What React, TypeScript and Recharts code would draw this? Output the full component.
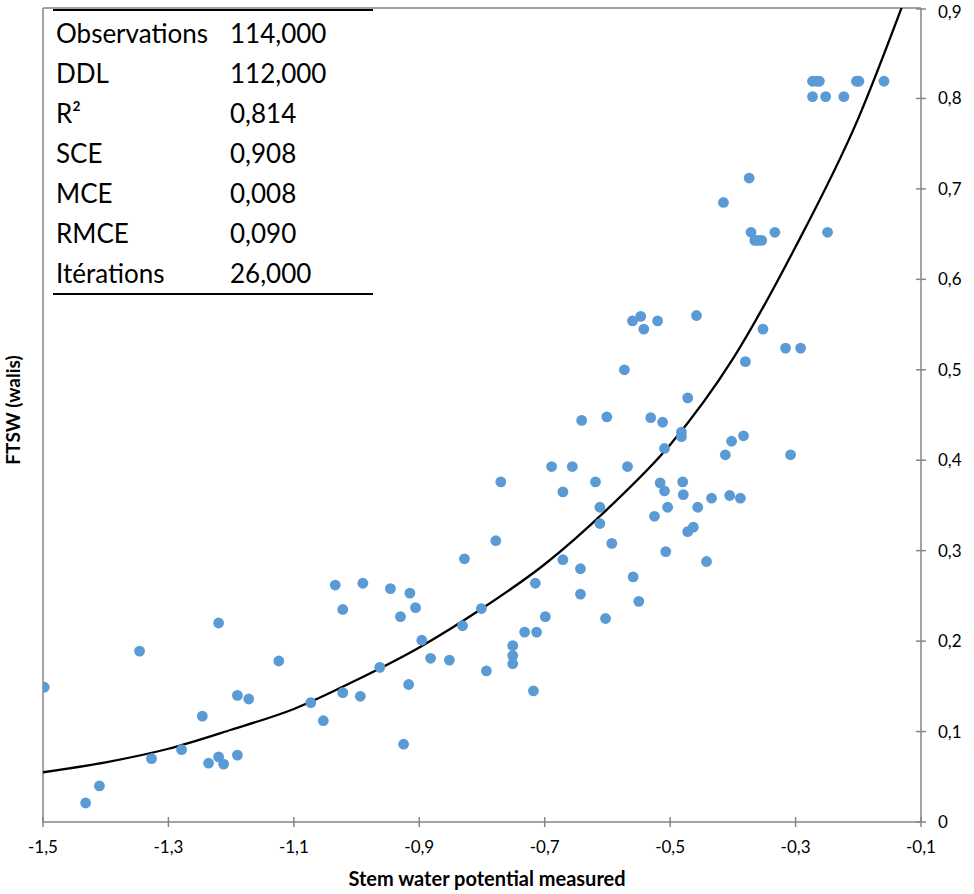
import React from 'react';
import { ComposedChart, Scatter, Line, XAxis, YAxis, ReferenceLine } from 'recharts';

// measured stem water potential (x) vs FTSW (y)
const obsX = [
  -1.498, -1.432, -1.41, -1.346, -1.327, -1.279, -1.246, -1.236, -1.22, -1.22,
  -1.212, -1.19, -1.19, -1.172, -1.124, -1.073, -1.053, -1.034, -1.022, -1.022,
  -0.994, -0.99, -0.963, -0.946, -0.93, -0.925, -0.917, -0.915, -0.906, -0.896,
  -0.882, -0.852, -0.831, -0.828, -0.801, -0.793, -0.778, -0.77, -0.751, -0.751,
  -0.751, -0.732, -0.718, -0.713, -0.715, -0.699, -0.689, -0.671, -0.671, -0.656,
  -0.643, -0.643, -0.641, -0.619, -0.612, -0.612, -0.603, -0.601, -0.593, -0.573,
  -0.568, -0.56, -0.559, -0.547, -0.542, -0.531, -0.525, -0.52, -0.516, -0.512,
  -0.509, -0.509, -0.504, -0.507, -0.482, -0.482, -0.48, -0.479, -0.472, -0.472,
  -0.463, -0.458, -0.456, -0.442, -0.434, -0.415, -0.412, -0.405, -0.402, -0.388,
  -0.383, -0.38, -0.374, -0.371, -0.365, -0.36, -0.354, -0.352, -0.333, -0.316,
  -0.308, -0.292, -0.273, -0.273, -0.266, -0.262, -0.252, -0.249, -0.223, -0.203,
  -0.199, -0.159, -0.55,
];
const obsY = [
  0.149, 0.021, 0.04, 0.189, 0.07, 0.08, 0.117, 0.065, 0.22, 0.072,
  0.064, 0.074, 0.14, 0.136, 0.178, 0.132, 0.112, 0.262, 0.143, 0.235,
  0.139, 0.264, 0.171, 0.258, 0.227, 0.086, 0.152, 0.253, 0.237, 0.201,
  0.181, 0.179, 0.217, 0.291, 0.236, 0.167, 0.311, 0.376, 0.195, 0.184,
  0.175, 0.21, 0.145, 0.21, 0.264, 0.227, 0.393, 0.365, 0.29, 0.393,
  0.28, 0.252, 0.444, 0.376, 0.348, 0.33, 0.225, 0.448, 0.308, 0.5,
  0.393, 0.554, 0.271, 0.559, 0.545, 0.447, 0.338, 0.554, 0.375, 0.442,
  0.413, 0.366, 0.348, 0.299, 0.431, 0.426, 0.376, 0.362, 0.469, 0.321,
  0.326, 0.56, 0.348, 0.288, 0.358, 0.685, 0.406, 0.361, 0.421, 0.358,
  0.427, 0.509, 0.712, 0.652, 0.643, 0.643, 0.643, 0.545, 0.652, 0.524,
  0.406, 0.524, 0.802, 0.819, 0.819, 0.819, 0.802, 0.652, 0.802, 0.819,
  0.819, 0.819, 0.244,
];

// fitted model curve
const fitX = [-1.5, -1.4, -1.3, -1.2, -1.1, -1.0, -0.9, -0.8, -0.7, -0.6, -0.5, -0.4, -0.3, -0.2, -0.13];
const fitY = [0.055, 0.066, 0.081, 0.102, 0.125, 0.157, 0.193, 0.236, 0.285, 0.346, 0.417, 0.512, 0.636, 0.778, 0.902];

const xTicks = [-1.5, -1.3, -1.1, -0.9, -0.7, -0.5, -0.3, -0.1];
const yTicks = [0, 0.1, 0.2, 0.3, 0.4, 0.5, 0.6, 0.7, 0.8, 0.9];

const statLabels = ['Observations', 'DDL', 'R²', 'SCE', 'MCE', 'RMCE', 'Itérations'];
const statValues = ['114,000', '112,000', '0,814', '0,908', '0,008', '0,090', '26,000'];

const points = obsX.map((x, i) => ({ x, y: obsY[i] }));
const curve = fitX.map((x, i) => ({ x, y: fitY[i] }));

const AXIS = '#868686';
const FONT = 'Lato, "Open Sans", sans-serif';

const fmt = (v: number) => (v === 0 ? '0' : v.toFixed(1).replace('.', ','));

const XTick = (props: any) => {
  const { x, y, payload } = props;
  const ay = y - 4;
  return (
    <g>
      <line x1={x} x2={x} y1={ay - 5} y2={ay + 5} stroke={AXIS} strokeWidth={1.5} />
      <text x={x} y={ay + 31} textAnchor="middle" fill="#000" fontSize={17} fontFamily={FONT}>
        {fmt(payload.value)}
      </text>
    </g>
  );
};

const YTick = (props: any) => {
  const { x, y, payload, index } = props;
  const ax = x - 4;
  // keep the top label inside the page
  const dy = index === yTicks.length - 1 ? 9 : 6;
  return (
    <g>
      <line x1={ax - 5} x2={ax + 5} y1={y} y2={y} stroke={AXIS} strokeWidth={1.5} />
      <text x={ax + 17} y={y + dy} textAnchor="start" fill="#000" fontSize={17} fontFamily={FONT}>
        {fmt(payload.value)}
      </text>
    </g>
  );
};

const Dot = (props: any) => <circle cx={props.cx} cy={props.cy} r={5.4} fill="#5B9BD5" />;

export default function App() {
  return (
    <div style={{ position: 'absolute', left: 0, top: 0, width: 974, height: 894, background: '#fff', fontFamily: FONT }}>
      <ComposedChart width={974} height={894} margin={{ top: 8, right: 0, bottom: 0, left: 43 }}>
        <XAxis
          type="number"
          dataKey="x"
          domain={[-1.5, -0.1]}
          ticks={xTicks}
          allowDataOverflow
          height={72}
          stroke={AXIS}
          strokeWidth={1.5}
          tickLine={false}
          tickSize={0}
          tickMargin={4}
          tick={<XTick />}
        />
        <YAxis
          type="number"
          dataKey="y"
          orientation="right"
          domain={[0, 0.9]}
          ticks={yTicks}
          allowDataOverflow
          width={53}
          stroke={AXIS}
          strokeWidth={1.5}
          tickLine={false}
          tickSize={0}
          tickMargin={4}
          tick={<YTick />}
        />
        <ReferenceLine x={-1.5} stroke={AXIS} strokeWidth={1.5} />
        <ReferenceLine y={0.9} stroke={AXIS} strokeWidth={1.5} />
        <Scatter data={points} dataKey="y" shape={<Dot />} isAnimationActive={false} />
        <Line
          data={curve}
          dataKey="y"
          type="monotone"
          stroke="#000"
          strokeWidth={2.3}
          dot={false}
          activeDot={false}
          isAnimationActive={false}
        />
      </ComposedChart>

      {/* stats table */}
      <div style={{ position: 'absolute', left: 53, top: 9, width: 320, borderTop: '2px solid #000', borderBottom: '2px solid #000', height: 282 }}>
        {statLabels.map((lab, i) => (
          <div key={lab} style={{ position: 'absolute', top: 6 + i * 40, left: 3, fontSize: 26, lineHeight: '32px', color: '#000', whiteSpace: 'nowrap' }}>
            <span style={{ position: 'absolute', left: 0 }}>{lab}</span>
            <span style={{ position: 'absolute', left: 174 }}>{statValues[i]}</span>
          </div>
        ))}
      </div>

      <div style={{ position: 'absolute', left: 0, width: 974, top: 866, textAlign: 'center', fontWeight: 700, fontSize: 20, color: '#000' }}>
        Stem water potential measured
      </div>
      <div
        style={{
          position: 'absolute',
          left: 13,
          top: 410,
          transform: 'translate(-50%, -50%) rotate(-90deg)',
          fontWeight: 700,
          fontSize: 19,
          lineHeight: '22px',
          color: '#000',
          whiteSpace: 'nowrap',
        }}
      >
        FTSW (walis)
      </div>
    </div>
  );
}
